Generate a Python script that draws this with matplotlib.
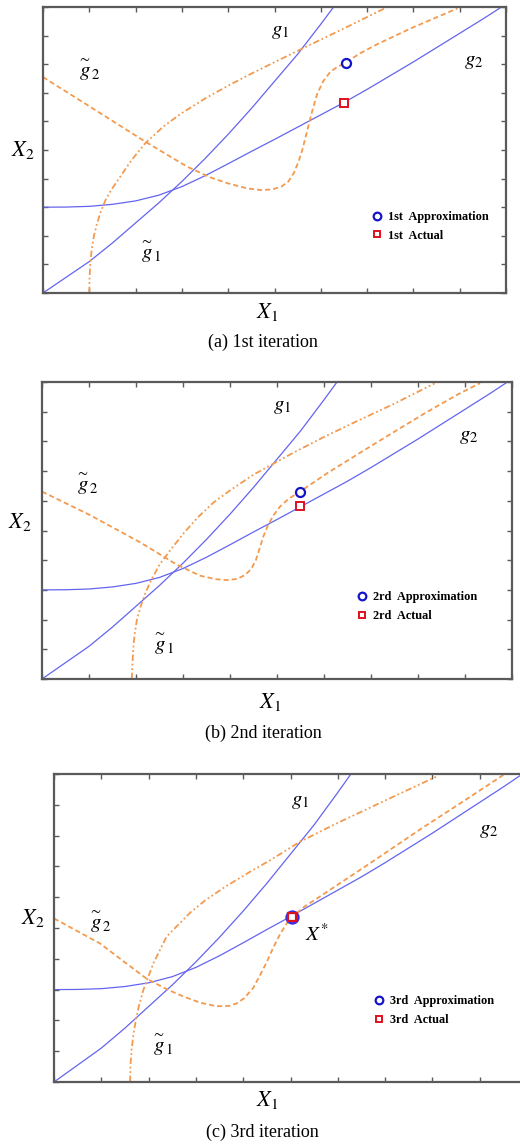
import matplotlib.pyplot as plt
from matplotlib.lines import Line2D

plt.rcParams['mathtext.fontset'] = 'stix'
plt.rcParams['font.family'] = ['Liberation Serif', 'DejaVu Serif']

# true constraints g1, g2 (same curves in all three iterations)
g1_x = [0, 0.5, 1, 1.5, 2, 2.5, 3, 3.5, 4, 4.5, 5, 5.5, 6, 6.3]
g1_y = [0, 0.55, 1.1, 1.75, 2.45, 3.15, 3.9, 4.7, 5.55, 6.45, 7.4, 8.35, 9.4, 10.05]
g2_x = [0, 0.5, 1, 1.5, 2, 2.5, 3, 3.5, 4, 4.5, 5, 5.5, 6, 6.5, 7, 7.5, 8, 8.5, 9, 9.5, 10]
g2_y = [3.0, 3.005, 3.03, 3.1, 3.22, 3.42, 3.72, 4.1, 4.52, 4.95, 5.37, 5.8, 6.23,
        6.66, 7.12, 7.6, 8.08, 8.58, 9.08, 9.58, 10.1]

# approximation g1~ (dash-dot) per iteration
gt1_x_a = [1.0, 1.005, 1.02, 1.05, 1.1, 1.17, 1.25, 1.35, 1.48, 1.67, 1.9, 2.21, 2.6,
           2.97, 3.5, 4.0, 4.5, 5.0, 5.63, 6.5, 7.44]
gt1_y_a = [0.0, 0.5, 1.0, 1.5, 2.0, 2.45, 2.85, 3.25, 3.62, 4.07, 4.62, 5.24, 5.82,
           6.26, 6.8, 7.25, 7.67, 8.07, 8.57, 9.25, 10.0]
gt1_x_b = [1.91, 1.925, 1.94, 1.97, 2.02, 2.1, 2.2, 2.33, 2.5, 2.75, 3.01, 3.3, 3.64,
           4.0, 4.5, 4.89, 5.35, 6.0, 6.7, 7.47, 8.35]
gt1_y_b = [0.0, 0.5, 1.0, 1.5, 2.0, 2.45, 2.9, 3.35, 3.85, 4.38, 4.9, 5.42, 5.93,
           6.35, 6.88, 7.22, 7.62, 8.15, 8.68, 9.25, 9.95]
gt1_x_c = [1.61, 1.615, 1.64, 1.68, 1.73, 1.8, 1.89, 2.1, 2.38, 2.88, 3.2, 3.6, 4.14,
           4.57, 5.2, 5.98, 7.03, 8.09]
gt1_y_c = [0.0, 0.5, 1.04, 1.55, 2.01, 2.5, 2.99, 3.85, 4.72, 5.5, 5.9, 6.32, 6.82,
           7.2, 7.8, 8.4, 9.16, 9.92]

# approximation g2~ (dashed) per iteration
gt2_x_a = [0.0, 1.02, 2.21, 3.11, 3.6, 3.98, 4.4, 4.7, 4.95, 5.15, 5.3, 5.42, 5.52,
           5.6, 5.71, 5.82, 5.92, 6.05, 6.2, 6.35, 6.5, 6.85, 7.22, 7.94, 8.95]
gt2_y_a = [7.55, 6.51, 5.29, 4.42, 4.05, 3.84, 3.66, 3.6, 3.62, 3.72, 3.9, 4.2, 4.6,
           5.0, 5.7, 6.4, 6.95, 7.4, 7.72, 7.9, 8.02, 8.38, 8.7, 9.25, 9.95]
gt2_x_b = [0.0, 1.02, 2.09, 2.87, 3.36, 3.7, 3.93, 4.15, 4.32, 4.45, 4.55, 4.63, 4.71,
           4.8, 4.92, 5.06, 5.25, 5.49, 6.06, 6.77, 7.47, 8.18, 8.89, 9.32]
gt2_y_b = [6.31, 5.52, 4.6, 3.85, 3.48, 3.36, 3.33, 3.37, 3.5, 3.7, 4.0, 4.4, 4.8,
           5.15, 5.5, 5.8, 6.07, 6.31, 6.92, 7.62, 8.3, 8.98, 9.62, 9.96]
gt2_x_c = [0.0, 0.97, 1.96, 2.4, 2.73, 3.1, 3.44, 3.7, 3.86, 4.02, 4.21, 4.35, 4.5,
           4.64, 4.78, 4.92, 5.03, 5.3, 5.62, 6.68, 7.74, 8.79, 9.5]
gt2_y_c = [5.31, 4.5, 3.35, 3.0, 2.78, 2.57, 2.46, 2.47, 2.55, 2.72, 3.05, 3.45, 3.9,
           4.38, 4.8, 5.15, 5.36, 5.7, 6.02, 7.1, 8.2, 9.25, 9.97]

# approximate / actual points per iteration
approx_x = [6.54, 5.49, 5.03]
approx_y = [8.03, 6.31, 5.35]
actual_x = [6.5, 5.49, 5.03]
actual_y = [6.65, 5.82, 5.35]

ordinals = ['1st', '2rd', '3rd']
captions = ['(a) 1st iteration', '(b) 2nd iteration', '(c) 3rd iteration']

gt1 = [(gt1_x_a, gt1_y_a), (gt1_x_b, gt1_y_b), (gt1_x_c, gt1_y_c)]
gt2 = [(gt2_x_a, gt2_y_a), (gt2_x_b, gt2_y_b), (gt2_x_c, gt2_y_c)]

W, H = 520, 1146
fig = plt.figure(figsize=(W / 100, H / 100), dpi=100)


def px_box(l, t, r, b):
    return [l / W, 1 - b / H, (r - l) / W, (b - t) / H]


boxes = [px_box(43, 7, 506, 293), px_box(42, 382, 512, 679), px_box(54, 774, 527, 1082)]
# label positions in data units: g~2, g~1, g1, g2, legend-left
lab_pos = [
    [(0.98, 7.8), (2.32, 1.44), (5.13, 9.13), (9.31, 8.08), (7.1, 2.33)],
    [(0.95, 6.59), (2.58, 1.2), (5.1, 9.17), (9.07, 8.16), (6.7, 2.44)],
    [(0.97, 5.2), (2.28, 1.2), (5.2, 9.1), (9.18, 8.18), (6.77, 2.31)],
]
# axis labels / captions in pixels: X2, X1, caption
fig_pos = [
    [(23, 150), (267, 312), (263, 342)],
    [(20, 522), (270, 702), (263, 733)],
    [(33, 918), (267, 1100), (262, 1132)],
]

blue = '#6464f0'
orange = '#f39a4e'
frame = '#5a5a5a'

for i in range(3):
    ax = fig.add_axes(boxes[i])
    ax.plot(g1_x, g1_y, color=blue, lw=0.9)
    ax.plot(g2_x, g2_y, color=blue, lw=0.9)
    ax.plot(gt1[i][0], gt1[i][1], color=orange, lw=1.3,
            linestyle=(0, (3.5, 1.5, 1, 1.5, 1, 1.5)))
    ax.plot(gt2[i][0], gt2[i][1], color=orange, lw=1.3, linestyle=(0, (2.8, 1.7)))

    if i < 2:
        ax.plot(approx_x[i], approx_y[i], 'o', ms=6.5, mfc='white', mec='#1414c8', mew=1.6)
        ax.plot(actual_x[i], actual_y[i], 's', ms=5.3, mfc='white', mec='#e0101e', mew=1.4)
    else:
        ax.plot(approx_x[i], approx_y[i], 'o', ms=8.5, mfc='white', mec='#3030e0', mew=1.8)
        ax.plot(actual_x[i], actual_y[i], 's', ms=5.5, mfc='white', mec='#e0101e', mew=1.6)
        ax.text(5.55, 4.77, r'$X^{*}$', fontsize=15, ha='center', va='center')

    p = lab_pos[i]
    ax.text(*p[0], r'$\overset{\sim}{g}_2$', fontsize=15, ha='center', va='center')
    ax.text(*p[1], r'$\overset{\sim}{g}_1$', fontsize=15, ha='center', va='center')
    ax.text(*p[2], r'$g_1$', fontsize=15, ha='center', va='center')
    ax.text(*p[3], r'$g_2$', fontsize=15, ha='center', va='center')

    handles = [
        Line2D([], [], ls='none', marker='o', ms=5.5, mfc='white', mec='#1414c8', mew=1.6),
        Line2D([], [], ls='none', marker='s', ms=5, mfc='white', mec='#e0101e', mew=1.4),
    ]
    ax.legend(handles, [ordinals[i] + '  Approximation', ordinals[i] + '  Actual'],
              loc='center left', bbox_to_anchor=(p[4][0] / 10, p[4][1] / 10),
              frameon=False, handlelength=0.8, handletextpad=0.5, labelspacing=0.55,
              borderpad=0, borderaxespad=0,
              prop={'family': 'Liberation Serif', 'weight': 'bold', 'size': 8.8})

    ax.set_xlim(0, 10)
    ax.set_ylim(0, 10)
    ax.set_xticks(range(11))
    ax.set_yticks(range(11))
    ax.tick_params(direction='in', length=3.5, width=1, color=frame,
                   top=True, right=True, labelbottom=False, labelleft=False)
    for s in ax.spines.values():
        s.set_color(frame)
        s.set_linewidth(1.6)

    f = fig_pos[i]
    fig.text(f[0][0] / W, 1 - f[0][1] / H, r'$X_2$', fontsize=16, ha='center', va='center')
    fig.text(f[1][0] / W, 1 - f[1][1] / H, r'$X_1$', fontsize=16, ha='center', va='center')
    fig.text(f[2][0] / W, 1 - f[2][1] / H, captions[i], fontsize=13, ha='center', va='center')

fig.savefig('out.png', dpi=100)
